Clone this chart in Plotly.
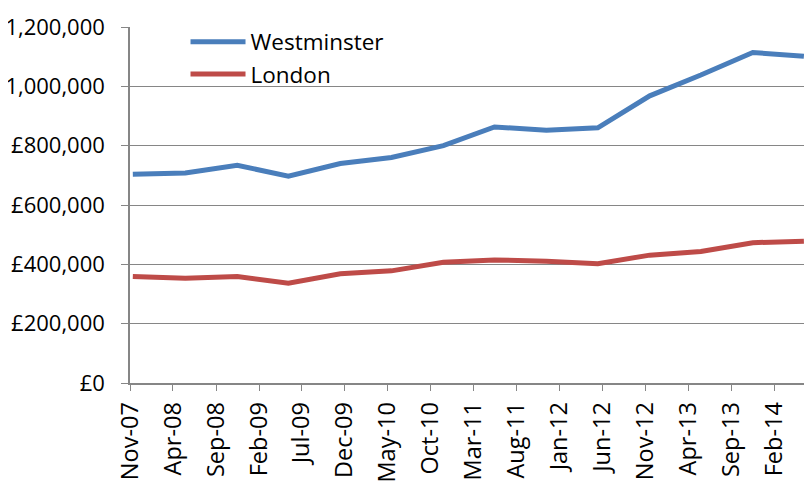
import plotly.graph_objects as go

dates = ["2007-11-11", "2008-05-15", "2008-11-15", "2009-05-15", "2009-11-15",
         "2010-05-15", "2010-11-15", "2011-05-15", "2011-11-15", "2012-05-15",
         "2012-11-15", "2013-05-15", "2013-11-15", "2014-05-15"]
westminster = [704000, 708000, 734000, 697000, 740000, 760000, 800000, 863000,
               852000, 860000, 968000, 1038000, 1114000, 1101000]
london = [359000, 353000, 359000, 336000, 368000, 378000, 407000, 415000,
          410000, 402000, 431000, 443000, 473000, 478000]

tick_dates = ["2007-11-01", "2008-04-01", "2008-09-01", "2009-02-01", "2009-07-01",
              "2009-12-01", "2010-05-01", "2010-10-01", "2011-03-01", "2011-08-01",
              "2012-01-01", "2012-06-01", "2012-11-01", "2013-04-01", "2013-09-01",
              "2014-02-01"]
tick_labels = ["Nov-07", "Apr-08", "Sep-08", "Feb-09", "Jul-09", "Dec-09", "May-10",
               "Oct-10", "Mar-11", "Aug-11", "Jan-12", "Jun-12", "Nov-12", "Apr-13",
               "Sep-13", "Feb-14"]

FONT = "Open Sans"
fig = go.Figure()
fig.add_trace(go.Scatter(x=dates, y=westminster, name="Westminster", mode="lines",
                         line=dict(color="#4A7EBB", width=5)))
fig.add_trace(go.Scatter(x=dates, y=london, name="London", mode="lines",
                         line=dict(color="#BE4B48", width=5)))

fig.update_layout(
    width=812, height=491,
    margin=dict(l=122, r=13, t=19, b=116, autoexpand=False),
    paper_bgcolor="white", plot_bgcolor="white",
    font=dict(family=FONT, size=22, color="black"),
    showlegend=True,
    legend=dict(x=0.082, y=1.018, xanchor="left", yanchor="top",
                bgcolor="rgba(0,0,0,0)", font=dict(size=22.5),
                tracegroupgap=0, itemwidth=55),
)
fig.update_xaxes(
    type="date", range=["2007-11-01", "2014-05-26"],
    tickmode="array", tickvals=tick_dates, ticktext=tick_labels,
    tickangle=-90, ticks="outside", ticklen=6, tickcolor="#868686",
    tickfont=dict(size=23.5),
    showline=True, linecolor="#868686", linewidth=1.5,
    showgrid=False, zeroline=False, ticklabelstandoff=2,
)
fig.update_yaxes(
    range=[0, 1200000], dtick=200000, tickprefix="£", tickformat=",",
    ticks="outside", ticklen=7, tickcolor="#868686",
    tickfont=dict(size=22),
    showline=True, linecolor="#868686", linewidth=1.5,
    showgrid=True, gridcolor="#868686", gridwidth=1.2, zeroline=False,
    ticklabelstandoff=12,
)
fig.write_html("out.html")
